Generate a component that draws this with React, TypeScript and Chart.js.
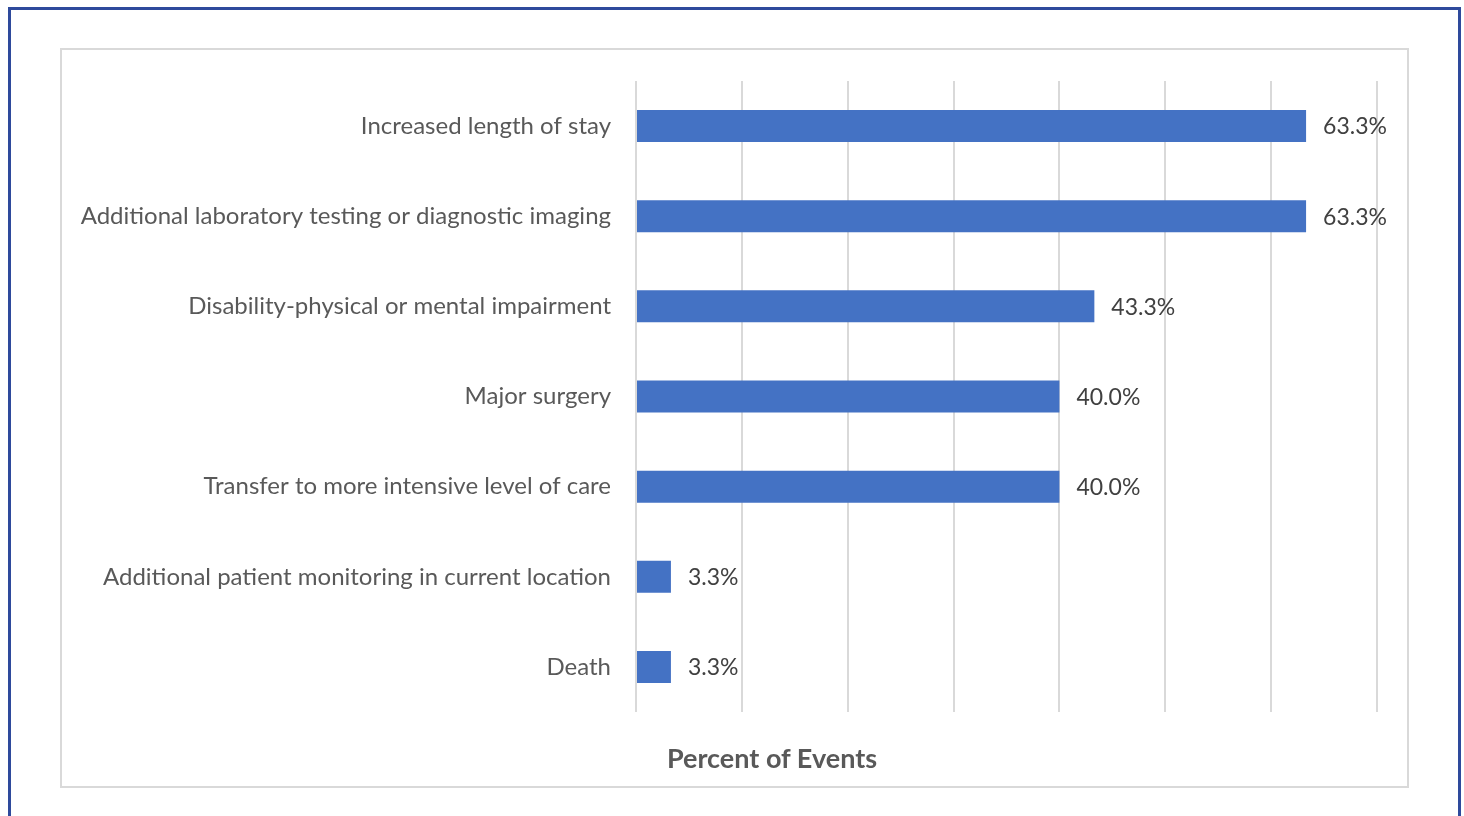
import React, { useEffect, useRef } from "react";
import { Chart, registerables } from "chart.js";

Chart.register(...registerables);

const categories: string[] = [
  "Increased length of stay",
  "Additional laboratory testing or diagnostic imaging",
  "Disability-physical or mental impairment",
  "Major surgery",
  "Transfer to more intensive level of care",
  "Additional patient monitoring in current location",
  "Death",
];
const percentValues: number[] = [63.3, 63.3, 43.3, 40.0, 40.0, 3.3, 3.3];
const axisMin = 0;
const axisMax = 70;
const axisStep = 10;
const axisTitle = "Percent of Events";

const FONT = "Lato, 'Open Sans', sans-serif";

const valueLabelPlugin = {
  id: "valueLabels",
  afterDatasetsDraw(chart: any) {
    const ctx = chart.ctx;
    const meta = chart.getDatasetMeta(0);
    ctx.save();
    ctx.font = `23px ${FONT}`;
    ctx.fillStyle = "#404040";
    ctx.textAlign = "left";
    ctx.textBaseline = "middle";
    meta.data.forEach((el: any, i: number) => {
      const v = chart.data.datasets[0].data[i] as number;
      ctx.fillText(`${v.toFixed(1)}%`, el.x + 17, el.y + 1);
    });
    ctx.restore();
  },
};

function BarChart() {
  const ref = useRef<HTMLCanvasElement | null>(null);
  useEffect(() => {
    if (!ref.current) return;
    const chart = new Chart(ref.current, {
      type: "bar",
      data: {
        labels: categories,
        datasets: [
          {
            data: percentValues,
            backgroundColor: "#4472c4",
            borderWidth: 0,
            categoryPercentage: 1,
            barPercentage: 0.355,
          },
        ],
      },
      options: {
        indexAxis: "y",
        responsive: false,
        animation: false,
        layout: { padding: { top: 31, right: 30, bottom: 74, left: 0 } },
        plugins: {
          legend: { display: false },
          tooltip: { enabled: false },
          title: { display: false },
        },
        scales: {
          x: {
            min: axisMin,
            max: axisMax,
            ticks: { display: false, stepSize: axisStep },
            grid: { color: "#d9d9d9", lineWidth: 2, drawTicks: false },
            border: { display: false },
            afterFit: (s: any) => {
              s.height = 0;
              s.paddingLeft = 0;
              s.paddingRight = 0;
            },
          },
          y: {
            grid: { display: false, drawTicks: false },
            border: { display: false },
            ticks: {
              color: "#595959",
              font: { family: FONT, size: 24 },
              padding: 25,
            },
            afterFit: (s: any) => {
              s.width = 574;
              s.paddingTop = 0;
              s.paddingBottom = 0;
            },
          },
        },
      },
      plugins: [valueLabelPlugin],
    });
    return () => chart.destroy();
  }, []);
  return <canvas ref={ref} width={1345} height={736} style={{ display: "block" }} />;
}

export default function App() {
  return (
    <div
      style={{
        position: "fixed",
        left: 8,
        top: 7,
        width: 1453,
        height: 830,
        boxSizing: "border-box",
        borderTop: "3px solid #2e4a9c",
        borderLeft: "3px solid #2e4a9c",
        borderRight: "3px solid #2e4a9c",
        background: "#ffffff",
      }}
    >
      <div
        style={{
          position: "absolute",
          left: 49,
          top: 38,
          width: 1349,
          height: 740,
          boxSizing: "border-box",
          border: "2px solid #d9d9d9",
        }}
      >
        <BarChart />
        <div
          style={{
            position: "absolute",
            left: 510,
            top: 692,
            width: 400,
            lineHeight: "32px",
            textAlign: "center",
            fontFamily: FONT,
            fontWeight: 700,
            fontSize: 27,
            color: "#595959",
          }}
        >
          {axisTitle}
        </div>
      </div>
    </div>
  );
}
